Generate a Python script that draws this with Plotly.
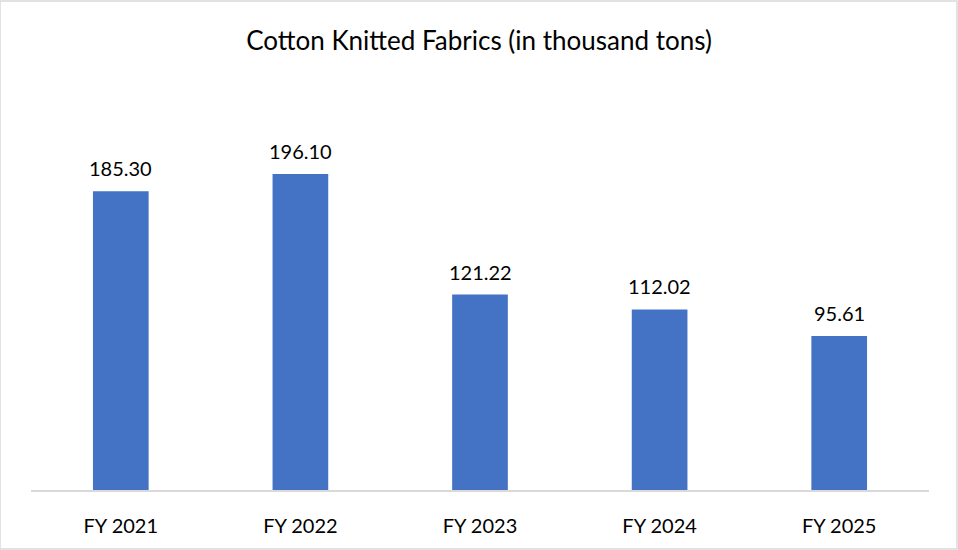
import plotly.graph_objects as go

categories = ["FY 2021", "FY 2022", "FY 2023", "FY 2024", "FY 2025"]
values = [185.30, 196.10, 121.22, 112.02, 95.61]

font_family = "Lato, 'Open Sans', sans-serif"
bar_color = "#4472C4"

fig = go.Figure()
fig.add_trace(go.Bar(
    x=categories,
    y=values,
    marker=dict(color=bar_color, line=dict(width=0)),
    width=0.31,
    hoverinfo="x+y",
))

# Value labels sitting above each bar
for cat, val in zip(categories, values):
    fig.add_annotation(
        x=cat, y=val, text=f"{val:.2f}",
        showarrow=False, yanchor="bottom", yshift=9,
        font=dict(family=font_family, size=20, color="#000000"),
    )

fig.update_layout(
    width=958, height=550,
    margin=dict(l=31, r=29, t=87, b=60),
    paper_bgcolor="white", plot_bgcolor="white",
    showlegend=False,
    title=dict(
        text="Cotton Knitted Fabrics (in thousand tons)",
        x=0.5, xanchor="center", y=1 - 41 / 550, yanchor="middle",
        font=dict(family=font_family, size=26, color="#000000"),
    ),
    xaxis=dict(
        showline=True, linecolor="#d9d9d9", linewidth=1.5,
        ticks="", ticklabelstandoff=17,
        tickfont=dict(family=font_family, size=20, color="#000000"),
    ),
    yaxis=dict(
        range=[0, 250], visible=False, showgrid=False, zeroline=False,
    ),
    shapes=[dict(
        type="rect", xref="paper", yref="paper",
        x0=-31 / 898, x1=1 + 28 / 898, y0=-59 / 403, y1=1 + 86 / 403,
        line=dict(color="#d9d9d9", width=1.5), fillcolor="rgba(0,0,0,0)",
        layer="below",
    )],
)

fig.write_html("out.html")
